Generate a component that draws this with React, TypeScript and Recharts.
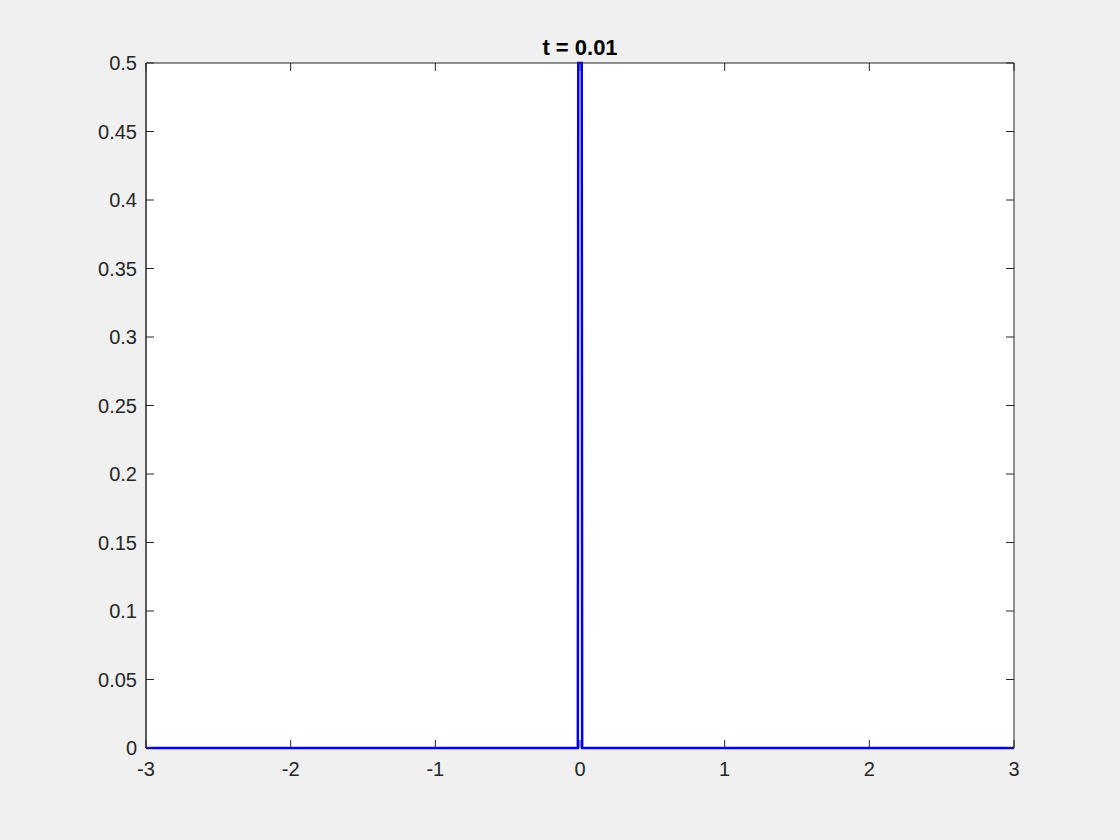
import { Line, LineChart, XAxis, YAxis } from "recharts";

const xValues = [-3, -0.015, -0.012, 0.012, 0.015, 3];
const uValues = [0, 0, 0.5, 0.5, 0, 0];

const xTicks = [-3, -2, -1, 0, 1, 2, 3];
const yTicks = [0, 0.05, 0.1, 0.15, 0.2, 0.25, 0.3, 0.35, 0.4, 0.45, 0.5];

const data = xValues.map((x, i) => ({ x, u: uValues[i] }));

const axisColor = "#262626";
const font = "'Liberation Sans', Arial, Helvetica, sans-serif";
const tickStyle = { fill: axisColor, fontSize: 20, fontFamily: font };

const fmt = (v: number) => String(Number(v.toFixed(2)));
const noLabel = () => <g />;

// inward tick marks on all four sides (matlab box style), drawn by mirrored axes
function tickAxes(xId: string, yId: string, xSide: "top" | "bottom", ySide: "left" | "right") {
  return [
    <XAxis
      key={xId}
      xAxisId={xId}
      orientation={xSide}
      mirror
      dataKey="x"
      type="number"
      domain={[-3, 3]}
      ticks={xTicks}
      height={1}
      tick={noLabel}
      tickSize={8}
      tickLine={{ stroke: axisColor }}
      axisLine={xSide === "top"}
      stroke={axisColor}
      interval={0}
    />,
    <YAxis
      key={yId}
      yAxisId={yId}
      orientation={ySide}
      mirror
      type="number"
      domain={[0, 0.5]}
      ticks={yTicks}
      width={1}
      tick={noLabel}
      tickSize={8}
      tickLine={{ stroke: axisColor }}
      stroke={axisColor}
      interval={0}
    />,
    <Line
      key={xId + yId}
      xAxisId={xId}
      yAxisId={yId}
      dataKey="u"
      stroke="none"
      dot={false}
      activeDot={false}
      isAnimationActive={false}
    />,
  ];
}

export default function App() {
  return (
    <div
      style={{
        position: "absolute",
        left: 0,
        top: 0,
        width: 1120,
        height: 840,
        background: "#f0f0f0",
      }}
    >
      <div
        style={{
          position: "absolute",
          left: 0,
          width: 1160,
          top: 35,
          textAlign: "center",
          fontFamily: font,
          fontWeight: "bold",
          fontSize: 22,
          color: "#000",
        }}
      >
        t = 0.01
      </div>
      <LineChart
        width={1120}
        height={840}
        data={data}
        margin={{ top: 63, right: 106, bottom: 0, left: 0 }}
      >
        <rect x={146} y={63} width={868} height={685} fill="#ffffff" />
        <XAxis
          dataKey="x"
          type="number"
          domain={[-3, 3]}
          ticks={xTicks}
          height={92}
          tick={tickStyle}
          tickLine={false}
          axisLine={false}
          tickMargin={8}
          stroke={axisColor}
          interval={0}
        />
        <YAxis
          type="number"
          domain={[0, 0.5]}
          ticks={yTicks}
          width={146}
          tick={tickStyle}
          tickFormatter={fmt}
          tickLine={false}
          tickMargin={3}
          stroke={axisColor}
          interval={0}
        />
        {tickAxes("bottomTicks", "leftTicks", "bottom", "left")}
        {tickAxes("topTicks", "rightTicks", "top", "right")}
        <Line
          type="linear"
          dataKey="u"
          stroke="#0000ff"
          strokeWidth={2.5}
          dot={false}
          activeDot={false}
          isAnimationActive={false}
        />
      </LineChart>
    </div>
  );
}
